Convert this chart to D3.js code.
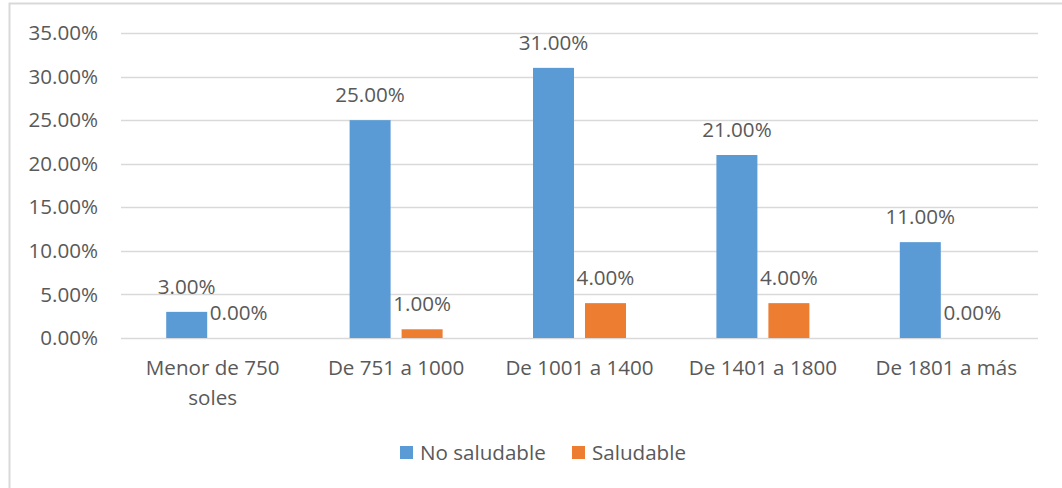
<!DOCTYPE html>
<html>
<head>
<meta charset="utf-8">
<script src="https://cdn.jsdelivr.net/npm/d3@7"></script>
<style>
  body { margin: 0; background: #fff; }
  text { font-family: "Open Sans", sans-serif; fill: #595959; }
</style>
</head>
<body>
<div class="chart"></div>
<script>
// chart data
var categories = [["Menor de 750", "soles"], ["De 751 a 1000"], ["De 1001 a 1400"], ["De 1401 a 1800"], ["De 1801 a más"]];
var noSaludable = [3, 25, 31, 21, 11];
var saludable = [0, 1, 4, 4, 0];
var seriesNames = ["No saludable", "Saludable"];
var colors = ["#5B9BD5", "#ED7D31"];
var yTicks = [0, 5, 10, 15, 20, 25, 30, 35];

var svgWidth = 1062;
var svgHeight = 488;
var fontSize = "20.6px";

var margin = { top: 33, right: 24, bottom: 150, left: 121 };
var width = svgWidth - margin.left - margin.right;
var height = svgHeight - margin.top - margin.bottom;

var svg = d3.select(".chart")
  .append("svg")
  .attr("width", svgWidth)
  .attr("height", svgHeight);

// outer chart border
svg.append("rect")
  .attr("x", 9.5)
  .attr("y", 3.5)
  .attr("width", 1080)
  .attr("height", 520)
  .attr("fill", "none")
  .attr("stroke", "#d9d9d9")
  .attr("stroke-width", 2);

var chartGroup = svg.append("g")
  .attr("transform", `translate(${margin.left}, ${margin.top})`);

var xScale = d3.scaleBand()
  .domain(d3.range(categories.length))
  .range([0, width]);

var yScale = d3.scaleLinear()
  .domain([0, 35])
  .range([height, 0]);

// gridlines
chartGroup.selectAll(".grid")
  .data(yTicks)
  .enter()
  .append("line")
  .attr("x1", 0)
  .attr("x2", width)
  .attr("y1", d => Math.round(yScale(d)) + 0.5)
  .attr("y2", d => Math.round(yScale(d)) + 0.5)
  .attr("stroke", "#d9d9d9")
  .attr("stroke-width", 1.5);

// y axis labels
var leftAxis = d3.axisLeft(yScale)
  .tickValues(yTicks)
  .tickSize(0)
  .tickPadding(23)
  .tickFormat(d => d.toFixed(2) + "%");

chartGroup.append("g")
  .call(leftAxis)
  .call(g => g.select(".domain").remove())
  .selectAll("text")
  .style("font-size", fontSize)
  .attr("fill", "#595959");

var barWidth = 41;
var gap = 11;
var series = [noSaludable, saludable];

series.forEach(function (values, s) {
  var offset = s === 0 ? -gap / 2 - barWidth : gap / 2;
  var g = chartGroup.append("g");

  g.selectAll("rect")
    .data(values)
    .enter()
    .append("rect")
    .attr("x", (d, i) => xScale(i) + xScale.bandwidth() / 2 + offset)
    .attr("y", d => yScale(d))
    .attr("width", barWidth)
    .attr("height", d => height - yScale(d))
    .attr("fill", colors[s]);

  // value labels
  g.selectAll("text")
    .data(values)
    .enter()
    .append("text")
    .attr("x", (d, i) => xScale(i) + xScale.bandwidth() / 2 + offset + barWidth / 2)
    .attr("y", d => yScale(d) - 25)
    .attr("dy", "0.35em")
    .attr("text-anchor", "middle")
    .style("font-size", fontSize)
    .text(d => d.toFixed(2) + "%");
});

// category labels
var catGroup = chartGroup.append("g");
categories.forEach(function (lines, i) {
  lines.forEach(function (line, j) {
    catGroup.append("text")
      .attr("x", xScale(i) + xScale.bandwidth() / 2)
      .attr("y", height + 30 + j * 30)
      .attr("dy", "0.35em")
      .attr("text-anchor", "middle")
      .style("font-size", fontSize)
      .text(line);
  });
});

// legend
var legend = svg.append("g");
var legendX = [400, 572];
seriesNames.forEach(function (name, s) {
  legend.append("rect")
    .attr("x", legendX[s])
    .attr("y", 446)
    .attr("width", 13)
    .attr("height", 13)
    .attr("fill", colors[s]);
  legend.append("text")
    .attr("x", legendX[s] + 20)
    .attr("y", 452.5)
    .attr("dy", "0.35em")
    .style("font-size", fontSize)
    .text(name);
});
</script>
</body>
</html>
